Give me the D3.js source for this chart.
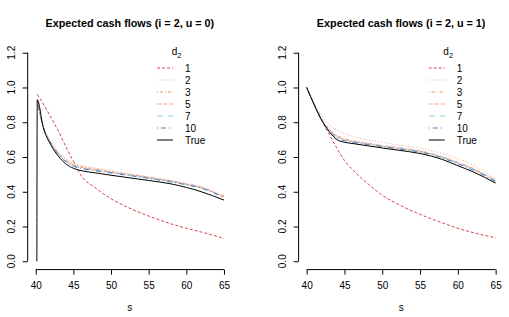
<!DOCTYPE html>
<html>
<head>
<meta charset="utf-8">
<script src="https://cdn.jsdelivr.net/npm/d3@7"></script>
<style>
  body { margin: 0; background: #fff; }
  text { font-family: "Liberation Sans", Arial, sans-serif; }
</style>
</head>
<body>
<div id="chart"></div>
<script>
const sLeft  = [40.2, 41, 42, 43, 44, 45, 46, 48, 50, 52, 55, 58, 60, 62, 65];
const sRight = [40, 41, 42, 43, 44, 45, 46, 48, 50, 52, 55, 58, 60, 62, 65];
const sLeftTrue = [40.15, 40.2, 41, 42, 43, 44, 45, 46, 48, 50, 52, 55, 58, 60, 62, 65];

// Legend labels (d2) and the true curve.
const seriesNames = ["1", "2", "3", "5", "7", "10", "True"];
const seriesColors = ["#d8424f", "#f2a08a", "#ef9060", "#f4a582", "#92c5de", "#4a7fc0", "#000000"];
const seriesDash = ["3,2", "1,2", "1,2,3,2", "4,2", "6,5", "1,3,5,3", null];

// u = 0
const left1  = [0.96, 0.905, 0.83, 0.75, 0.66, 0.575, 0.495, 0.42, 0.36, 0.315, 0.26, 0.215, 0.19, 0.168, 0.132];
const left2  = [0.92, 0.78, 0.69, 0.63, 0.59, 0.565, 0.552, 0.535, 0.52, 0.507, 0.487, 0.465, 0.448, 0.428, 0.375];
const left3  = [0.92, 0.775, 0.685, 0.625, 0.583, 0.558, 0.545, 0.53, 0.515, 0.502, 0.483, 0.462, 0.445, 0.425, 0.372];
const left5  = [0.92, 0.775, 0.68, 0.62, 0.578, 0.553, 0.54, 0.525, 0.512, 0.5, 0.481, 0.46, 0.443, 0.423, 0.37];
const left7  = [0.92, 0.775, 0.68, 0.618, 0.575, 0.55, 0.538, 0.524, 0.511, 0.499, 0.48, 0.459, 0.442, 0.422, 0.368];
const left10 = [0.92, 0.772, 0.677, 0.615, 0.572, 0.547, 0.535, 0.52, 0.508, 0.496, 0.477, 0.456, 0.44, 0.42, 0.366];
const leftTrue = [0, 0.93, 0.77, 0.67, 0.605, 0.56, 0.535, 0.522, 0.508, 0.495, 0.483, 0.465, 0.445, 0.425, 0.40, 0.352];

// u = 1
const right1  = [1.0, 0.90, 0.81, 0.73, 0.65, 0.58, 0.53, 0.45, 0.38, 0.33, 0.27, 0.22, 0.19, 0.165, 0.135];
const right2  = [1.0, 0.91, 0.835, 0.785, 0.755, 0.735, 0.72, 0.70, 0.685, 0.67, 0.65, 0.62, 0.59, 0.555, 0.47];
const right3  = [1.0, 0.905, 0.82, 0.76, 0.725, 0.705, 0.695, 0.68, 0.665, 0.655, 0.635, 0.60, 0.57, 0.535, 0.465];
const right5  = [1.0, 0.90, 0.815, 0.755, 0.72, 0.70, 0.69, 0.677, 0.663, 0.65, 0.632, 0.598, 0.565, 0.53, 0.462];
const right7  = [1.0, 0.90, 0.815, 0.752, 0.715, 0.698, 0.69, 0.677, 0.665, 0.652, 0.633, 0.60, 0.567, 0.532, 0.465];
const right10 = [1.0, 0.90, 0.812, 0.75, 0.71, 0.693, 0.685, 0.672, 0.66, 0.647, 0.628, 0.594, 0.56, 0.525, 0.458];
const rightTrue = [1.0, 0.90, 0.81, 0.745, 0.70, 0.685, 0.678, 0.665, 0.652, 0.64, 0.62, 0.585, 0.55, 0.515, 0.45];

const xTicks = [40, 45, 50, 55, 60, 65];
const yTicks = [0, 0.2, 0.4, 0.6, 0.8, 1.0, 1.2];

const panels = [
  { title: "Expected cash flows (i = 2, u = 0)", x0: 28.2, x1: 231.5,
    grids: [sLeft, sLeft, sLeft, sLeft, sLeft, sLeft, sLeftTrue],
    series: [left1, left2, left3, left5, left7, left10, leftTrue] },
  { title: "Expected cash flows (i = 2, u = 1)", x0: 299.1, x1: 503.2,
    grids: [sRight, sRight, sRight, sRight, sRight, sRight, sRight],
    series: [right1, right2, right3, right5, right7, right10, rightTrue] }
];

const width = 509, height = 317;
const plotTop = 44.4, plotBottom = 269.6;
const fs = 10;

const svg = d3.select("#chart").append("svg")
  .attr("width", width)
  .attr("height", height);

panels.forEach(p => {
  const x = d3.scaleLinear().domain([39, 66]).range([p.x0, p.x1]);
  const y = d3.scaleLinear().domain([-0.048, 1.248]).range([plotBottom, plotTop]);
  const g = svg.append("g");

  // x axis
  const xg = g.append("g")
    .attr("transform", "translate(0," + plotBottom + ")")
    .call(d3.axisBottom(x).tickValues(xTicks).tickSize(5).tickPadding(7));
  xg.select(".domain").remove();
  xg.append("line")
    .attr("x1", x(xTicks[0])).attr("x2", x(xTicks[xTicks.length - 1]))
    .attr("stroke", "#000");
  xg.selectAll("text").attr("font-size", fs).attr("fill", "#000")
    .style("font-family", "'Liberation Sans', Arial, sans-serif");

  // y axis
  const yg = g.append("g")
    .attr("transform", "translate(" + (p.x0 - 0.5) + ",0)")
    .call(d3.axisLeft(y).tickValues(yTicks).tickSize(5).tickFormat(""));
  yg.select(".domain").remove();
  yg.append("line")
    .attr("y1", y(yTicks[0])).attr("y2", y(yTicks[yTicks.length - 1]))
    .attr("stroke", "#000");
  yg.selectAll(".ylab")
    .data(yTicks)
    .enter()
    .append("text")
    .attr("class", "ylab")
    .attr("transform", d => "translate(-12.5," + y(d) + ") rotate(-90)")
    .attr("text-anchor", "middle")
    .attr("fill", "#000")
    .attr("font-size", fs)
    .text(d => d3.format(".1f")(d));

  // title
  g.append("text")
    .attr("x", (p.x0 + p.x1) / 2)
    .attr("y", 27)
    .attr("text-anchor", "middle")
    .attr("font-size", 10.8)
    .attr("font-weight", "bold")
    .text(p.title);

  // x label
  g.append("text")
    .attr("x", (p.x0 + p.x1) / 2)
    .attr("y", 311)
    .attr("text-anchor", "middle")
    .attr("font-size", fs)
    .text("s");

  // curves
  p.series.forEach((vals, i) => {
    const pts = vals.map((v, k) => [p.grids[i][k], v]);
    g.append("path")
      .datum(pts)
      .attr("fill", "none")
      .attr("stroke", seriesColors[i])
      .attr("stroke-width", 1)
      .attr("stroke-dasharray", seriesDash[i])
      .attr("d", d3.line()
        .x(d => x(d[0]))
        .y(d => y(d[1]))
        .curve(d3.curveMonotoneX));
  });

  // legend
  const lx = p.x1 - 74.5;
  const leg = g.append("g");
  const lt = leg.append("text")
    .attr("x", p.x1 - 55)
    .attr("y", 55)
    .attr("text-anchor", "middle")
    .attr("font-size", fs);
  lt.append("tspan").text("d");
  lt.append("tspan").attr("font-size", 7.5).attr("dy", 2.5).text("2");

  seriesNames.forEach((name, i) => {
    const cy = 68 + i * 12;
    leg.append("line")
      .attr("x1", lx).attr("x2", lx + 16)
      .attr("y1", cy).attr("y2", cy)
      .attr("stroke", seriesColors[i])
      .attr("stroke-dasharray", seriesDash[i]);
    leg.append("text")
      .attr("x", p.x1 - 46.5)
      .attr("y", cy + 3.6)
      .attr("font-size", fs)
      .text(name);
  });
});
</script>
</body>
</html>
